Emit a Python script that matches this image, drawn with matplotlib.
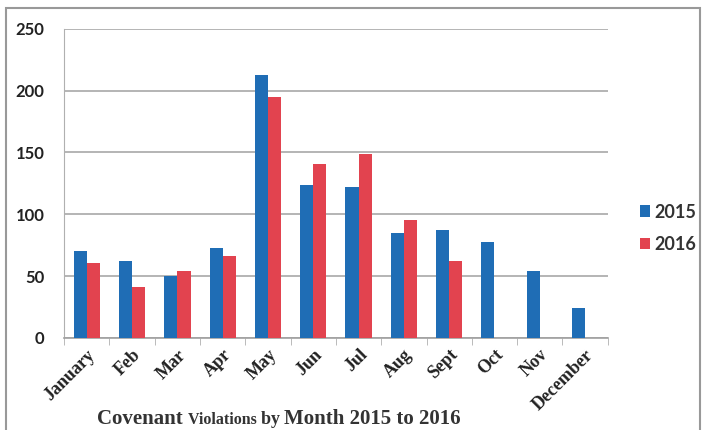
import numpy as np
import matplotlib.pyplot as plt
from matplotlib.patches import Rectangle

months = ['January', 'Feb', 'Mar', 'Apr', 'May', 'Jun', 'Jul', 'Aug',
          'Sept', 'Oct', 'Nov', 'December']
v2015 = [70, 62, 50, 73, 213, 124, 122, 85, 87, 78, 54, 24]
v2016 = [61, 41, 54, 66, 195, 141, 149, 95, 62, np.nan, np.nan, np.nan]

blue = '#1f6db5'
red = '#e2434f'

fig = plt.figure(figsize=(7.05, 4.3), dpi=100)
ax = fig.add_axes([0.091, 0.214, 0.771, 0.719])

x = np.arange(len(months))
w = 0.29
ax.bar(x - w / 2, v2015, w, color=blue, label='2015', zorder=3)
ax.bar(x + w / 2, v2016, w, color=red, label='2016', zorder=3)

ax.set_xlim(-0.5, len(months) - 0.5)
ax.set_ylim(0, 250)
ax.set_yticks(np.arange(0, 251, 50))
ax.yaxis.grid(True, color='#a8a8a8', linewidth=1.2, zorder=0)

for s in ['top', 'right']:
    ax.spines[s].set_visible(False)
ax.spines['left'].set_color('#b0b0b0')
ax.spines['bottom'].set_color('#a0a0a0')
ax.spines['bottom'].set_linewidth(1.2)

ax.set_xticks(x)
ax.set_xticks(np.arange(-0.5, len(months)), minor=True)
ax.tick_params(axis='x', which='major', length=0, pad=6)
ax.tick_params(axis='x', which='minor', length=5, color='#b0b0b0')
ax.tick_params(axis='y', length=0, pad=14)
ax.set_xticklabels(months, rotation=45, ha='right', rotation_mode='anchor',
                   fontfamily='Liberation Serif', fontweight='bold',
                   fontsize=13, color='#222222')
for lab in ax.get_yticklabels():
    lab.set_fontfamily('Lato')
    lab.set_fontweight('bold')
    lab.set_fontsize(12)
    lab.set_color('#222222')

leg = ax.legend(loc='center left', bbox_to_anchor=(1.03, 0.355), frameon=False,
                handlelength=0.55, handleheight=0.6, handletextpad=0.25,
                labelspacing=0.85, prop={'family': 'Lato', 'weight': 'bold', 'size': 13})
for t in leg.get_texts():
    t.set_color('#333333')

# outer frame
fig.patches.append(Rectangle((6 / 705, -0.01), 694 / 705, 1 - 8 / 430 + 0.01,
                             transform=fig.transFigure, fill=False,
                             edgecolor='#999999', linewidth=1.5))

# bottom title with mixed sizes
parts = [('Covenant ', 15), ('Violations ', 11.5), ('by ', 13), ('Month 2015 to 2016', 15)]
fig.canvas.draw()
r = fig.canvas.get_renderer()
xpos = 97
for txt, sz in parts:
    t = fig.text(xpos / 705, 1 - 424 / 430, txt, fontsize=sz, fontweight='bold',
                 fontfamily='Liberation Serif', color='#333333', va='baseline')
    bb = t.get_window_extent(renderer=r)
    xpos += bb.width

fig.savefig('out.png', dpi=100)
